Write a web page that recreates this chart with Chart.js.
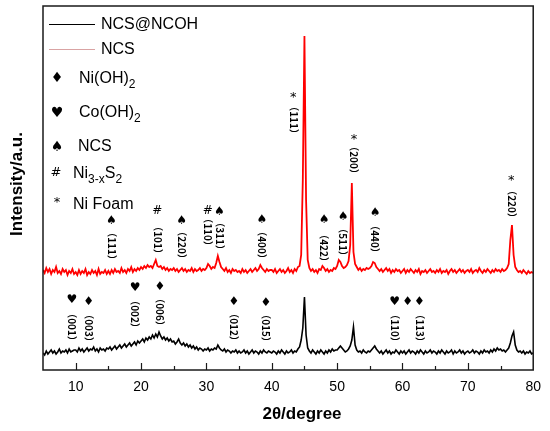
<!DOCTYPE html>
<html>
<head>
<meta charset="utf-8">
<script src="https://cdn.jsdelivr.net/npm/chart.js@4.4.1/dist/chart.umd.min.js"></script>
<style>
    body { margin: 0; background: #fff; }
    #wrap { width: 550px; height: 431px; }
</style>
</head>
<body>
<div id="wrap"><canvas id="xrd-chart" width="550" height="431"></canvas></div>
<script>
// data 2theta grid (degree)
const twoThetaStart = 5;
const twoThetaStep = 0.25;

// NCS (red), offset units
const ncsIntensity = [
    100,97,102,98,101,96,100,98,103,97,99,96,101,98,100,95,99,97,101,96,
    98,95,100,96,99,97,101,95,98,96,100,97,99,95,101,96,98,97,100,96,
    99,96,100,97,101,98,99,97,102,98,100,97,101,99,103,98,101,99,102,100,
    103,101,104,102,105,103,104,102,106,110,104,103,104,101,103,100,102,99,101,100,
    102,99,101,98,100,102,99,101,98,100,99,102,98,101,99,100,102,99,101,100,
    102,106,104,101,103,102,107,114,108,103,101,99,102,98,100,97,101,99,100,98,
    99,97,101,98,100,97,99,101,98,100,102,99,101,105,102,100,98,101,99,100,
    100,98,101,97,99,101,98,100,97,99,102,98,100,97,101,99,103,104,115,190,
    334,170,110,102,99,101,98,100,97,101,100,104,102,99,101,98,100,99,102,101,
    104,110,108,104,102,103,105,109,125,187,118,106,103,100,102,99,101,100,102,101,
    102,104,108,107,103,101,99,101,98,100,102,99,101,97,100,98,101,99,100,97,
    99,101,97,100,98,101,99,97,100,98,101,96,99,98,100,97,99,101,98,99,
    97,100,98,101,97,99,98,100,96,99,101,98,100,97,99,101,98,100,97,99,
    100,98,101,97,99,100,98,102,99,97,100,98,101,99,97,100,98,101,99,100,
    98,101,99,100,102,106,130,145,115,103,100,98,99,97,100,98,96,99,97,98,
    97
];

// NCS@NCOH (black)
const ncohIntensity = [
    17,15,19,16,18,20,17,19,16,18,21,17,19,18,20,17,21,18,19,20,
    20,18,22,19,21,18,20,22,19,21,20,23,19,21,18,22,20,21,19,22,
    21,23,20,22,24,21,23,25,22,24,26,23,25,27,24,26,28,25,29,27,
    29,31,28,32,30,33,31,35,32,36,33,38,34,31,33,30,32,29,31,28,
    29,26,28,31,27,25,27,24,26,23,25,22,24,21,23,20,22,21,19,21,
    20,22,19,21,20,22,21,25,22,20,19,21,18,20,19,17,19,18,20,17,
    19,17,18,20,17,19,16,18,20,17,19,18,16,19,17,20,18,17,19,18,
    17,19,18,16,19,17,20,18,16,19,17,18,20,17,19,18,21,23,30,42,
    73,35,22,19,17,20,18,16,19,17,20,18,16,19,17,20,18,21,19,20,
    20,22,24,22,20,18,19,21,24,30,43,25,20,18,19,17,20,18,17,19,
    18,20,22,24,21,19,17,19,16,18,20,17,19,16,18,17,20,18,16,19,
    17,19,16,18,20,17,19,18,16,19,17,20,18,16,19,17,18,20,17,19,
    18,16,19,17,20,18,16,19,17,18,20,16,19,17,18,20,17,19,16,18,
    19,17,18,20,17,19,18,16,19,17,20,18,19,17,20,18,21,19,22,20,
    21,19,20,18,20,22,27,34,38,25,20,18,19,17,19,16,18,17,19,16,
    17
];

// tick labels
const xTicks = [10, 20, 30, 40, 50, 60, 70, 80];

// peak labels NCS
const ncsHkl    = ['（111）','（101）','（220）','（110）','（311）','（400）','（111）','（422）','（511）','（200）','（440）','（220）'];
const ncsHklAt  = [15.45, 22.5, 26.2, 30.2, 32.0, 38.5, 43.3, 48.0, 50.9, 52.6, 55.8, 76.65];
const ncsHklSym = ['♠','#','♠','#','♠','♠','*','♠','♠','*','♠','*'];
const ncsSymY   = [149, 159, 149, 159, 158, 150, 275, 150, 153, 233, 157, 192];
const ncsTextY  = [124, 130, 125, 138, 134, 125, 250, 122, 128, 210, 131, 166];

// peak labels NCS@NCOH
const ncohHkl    = ['（001）','（003）','（002）','（006）','（012）','（015）','（110）','','（113）'];
const ncohHklAt  = [9.4, 12.0, 19.1, 22.9, 34.2, 39.1, 58.8, 60.8, 62.6];
const ncohHklSym = ['♥','♦','♥','♦','♦','♦','♥','♦','♦'];
const ncohSymY   = [70, 68, 82, 83, 68, 67, 68, 68, 68];
const ncohTextY  = [43, 42, 56, 58, 43, 42, 42, 42, 42];

function toPoints(values) {
    return values.map((v, i) => ({ x: twoThetaStart + i * twoThetaStep, y: v }));
}

// text with subscripts, parts = [[text, sub?], ...]
function richText(ctx, x, y, parts) {
    parts.forEach(p => {
        ctx.font = p[1] ? '12px "Liberation Sans", Arial' : '16px "Liberation Sans", Arial';
        ctx.fillText(p[0], x, p[1] ? y + 6 : y);
        x += ctx.measureText(p[0]).width;
    });
}

const decorPlugin = {
    id: 'decor',
    afterDraw(chart) {
        const ctx = chart.ctx;
        const area = chart.chartArea;
        const xs = chart.scales.x;
        const ys = chart.scales.y;
        ctx.save();

        // frame
        ctx.strokeStyle = '#1a1a1a';
        ctx.lineWidth = 1.5;
        ctx.strokeRect(area.left, area.top, area.right - area.left, area.bottom - area.top);

        // inner ticks
        ctx.lineWidth = 1.2;
        for (let v = 10; v < 80; v += 5) {
            const px = Math.round(xs.getPixelForValue(v)) + 0.5;
            const len = v % 10 === 0 ? 7 : 4;
            ctx.beginPath();
            ctx.moveTo(px, area.bottom);
            ctx.lineTo(px, area.bottom - len);
            ctx.stroke();
        }

        // axis titles
        ctx.fillStyle = '#000';
        ctx.font = 'bold 17px "Liberation Sans", Arial';
        ctx.textAlign = 'center';
        ctx.textBaseline = 'middle';
        ctx.fillText('2θ/degree', 302, 414);
        ctx.save();
        ctx.translate(17, 184);
        ctx.rotate(-Math.PI / 2);
        ctx.fillText('Intensity/a.u.', 0, 0);
        ctx.restore();

        // peak labels
        function hkl(labels, at, syms, symY, textY) {
            labels.forEach((t, i) => {
                const px = xs.getPixelForValue(at[i]);
                ctx.font = syms[i] === '*' ? '13px "DejaVu Sans"' : '12px "DejaVu Sans"';
                ctx.textAlign = 'center';
                ctx.fillText(syms[i], px, ys.getPixelForValue(symY[i]) + (syms[i] === '*' ? 3 : 0));
                if (t) {
                    ctx.save();
                    ctx.translate(px, ys.getPixelForValue(textY[i]));
                    ctx.rotate(Math.PI / 2);
                    ctx.font = 'bold 10px "Noto Sans CJK SC"';
                    ctx.fillText(t, 0, 0);
                    ctx.restore();
                }
            });
        }
        hkl(ncsHkl, ncsHklAt, ncsHklSym, ncsSymY, ncsTextY);
        hkl(ncohHkl, ncohHklAt, ncohHklSym, ncohSymY, ncohTextY);

        // legend
        ctx.lineWidth = 1;
        ctx.strokeStyle = '#000';
        ctx.beginPath(); ctx.moveTo(49, 24.5); ctx.lineTo(95, 24.5); ctx.stroke();
        ctx.strokeStyle = '#d9a3a3';
        ctx.beginPath(); ctx.moveTo(49, 49.5); ctx.lineTo(95, 49.5); ctx.stroke();

        ctx.textAlign = 'left';
        ctx.fillStyle = '#000';
        richText(ctx, 101, 25, [['NCS@NCOH', false]]);
        richText(ctx, 101, 50, [['NCS', false]]);
        richText(ctx, 79, 79, [['Ni(OH)', false], ['2', true]]);
        richText(ctx, 79, 113, [['Co(OH)', false], ['2', true]]);
        richText(ctx, 78, 147, [['NCS', false]]);
        richText(ctx, 73, 174, [['Ni', false], ['3-x', true], ['S', false], ['2', true]]);
        richText(ctx, 73, 205, [['Ni Foam', false]]);

        ctx.textAlign = 'center';
        ctx.font = '14px "DejaVu Sans"';
        ctx.fillText('♦', 57, 78);
        ctx.fillText('♥', 57, 113);
        ctx.fillText('♠', 57, 147);
        ctx.font = '13px "DejaVu Sans"';
        ctx.fillText('#', 56, 173);
        ctx.fillText('*', 57, 203);

        ctx.restore();
    }
};

new Chart(document.getElementById('xrd-chart'), {
    type: 'line',
    data: {
        datasets: [{
            label: 'NCS@NCOH',
            data: toPoints(ncohIntensity),
            borderColor: '#000',
            borderWidth: 1.6,
            pointRadius: 0,
            tension: 0
        }, {
            label: 'NCS',
            data: toPoints(ncsIntensity),
            borderColor: '#ff0000',
            borderWidth: 1.8,
            pointRadius: 0,
            tension: 0
        }]
    },
    options: {
        responsive: false,
        animation: false,
        layout: { padding: { left: 43, right: 14, top: 6, bottom: 0 } },
        scales: {
            x: {
                type: 'linear',
                min: 5,
                max: 80,
                afterBuildTicks: scale => { scale.ticks = xTicks.map(v => ({ value: v })); },
                afterFit: scale => { scale.height = 61; },
                ticks: {
                    color: '#000',
                    padding: 9,
                    maxRotation: 0,
                    font: { family: '"Liberation Sans", Arial', size: 14 }
                },
                grid: { display: false, drawTicks: false },
                border: { display: false }
            },
            y: {
                display: false,
                min: 0,
                max: 364
            }
        },
        plugins: {
            legend: { display: false },
            tooltip: { enabled: false }
        }
    },
    plugins: [decorPlugin]
});
</script>
</body>
</html>
